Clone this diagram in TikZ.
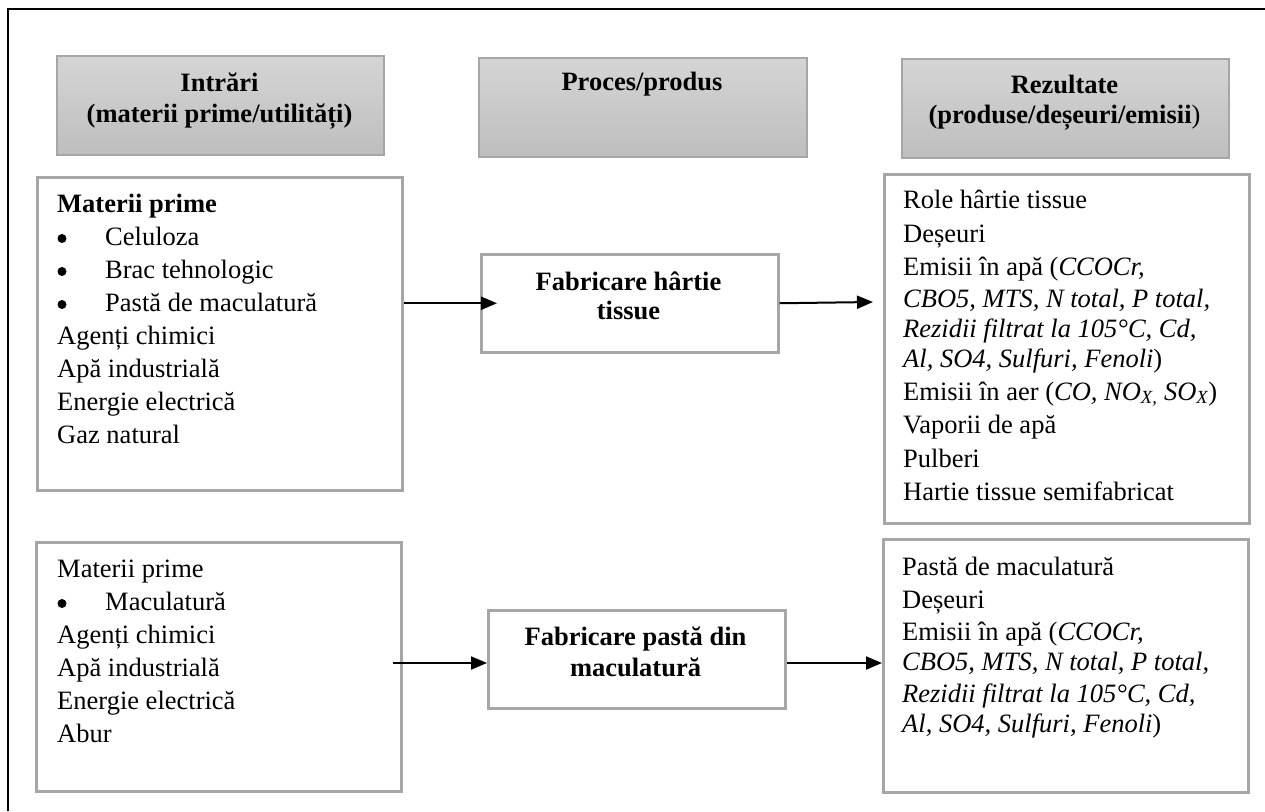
\documentclass[tikz,border=0pt]{standalone}
\usepackage{fontspec}
\setmainfont{Liberation Serif}
\usetikzlibrary{arrows.meta}
\definecolor{hdrtop}{RGB}{213,213,213}
\definecolor{hdrbot}{RGB}{190,190,190}
\definecolor{boxline}{RGB}{166,166,166}
\begin{document}
\begin{tikzpicture}[x=1pt,y=-1pt,
  every node/.style={font=\fontsize{26.5}{33}\selectfont},
  hdr/.style={draw=boxline, line width=1.5pt, top color=hdrtop, bottom color=hdrbot, anchor=north west, inner sep=0pt},
  tbox/.style={draw=boxline, line width=2.5pt, fill=white, anchor=north west, inner sep=0pt},
  txt/.style={anchor=base west, inner sep=0pt},
  bul/.style={circle, fill=black, inner sep=0pt, minimum size=9pt},
  ctxt/.style={anchor=base, inner sep=0pt, font=\fontsize{26.5}{33}\selectfont\bfseries},
  arr/.style={line width=2pt, -{Triangle[length=16pt,width=13pt]}}
]
\useasboundingbox (0,0) rectangle (1265,811);
\fill[white] (0,0) rectangle (1265,811);
% outer frame
\draw[line width=2.5pt] (8,811) -- (8,9) -- (1265,9);

% headers
\node[hdr, minimum width=327pt, minimum height=99pt] (hIn) at (56,55) {};
\node[hdr, minimum width=328pt, minimum height=99pt] (hPr) at (478,57) {};
\node[hdr, minimum width=327pt, minimum height=99pt] (hRe) at (901,58) {};
\node[ctxt] (hIn1) at (219.5,91) {Intrări};
\node[ctxt] (hIn2) at (219.5,122) {(materii prime/utilități)};
\node[ctxt] (hPr1) at (642,90) {Proces/produs};
\node[ctxt] (hRe1) at (1064.5,93) {Rezultate};
\node[ctxt] (hRe2) at (1064.5,123) {(produse/deșeuri/emisii\textnormal{)}};

% boxes
\node[tbox, minimum width=365pt, minimum height=313pt] (in1) at (36,176) {};
\node[tbox, minimum width=365pt, minimum height=249pt] (in2) at (35,541) {};
\node[tbox, minimum width=297pt, minimum height=98pt] (p1) at (480,253) {};
\node[tbox, minimum width=297pt, minimum height=98pt] (p2) at (487,609) {};
\node[tbox, minimum width=365pt, minimum height=349pt] (r1) at (883,173) {};
\node[tbox, minimum width=365pt, minimum height=253pt] (r2) at (882,538) {};

% input box 1 text
\node[txt] (i1t) at (57,212) {\textbf{Materii prime}};
\foreach \n/\y/\t in {1/245/Celuloza, 2/278/Brac tehnologic, 3/311/Pastă de maculatură}{
  \node[bul] (i1b\n) at (62,\y-6.5) {};
  \node[txt] (i1s\n) at (105,\y) {\t};
}
\foreach \n/\y/\t in {1/344/Agenți chimici, 2/377/Apă industrială, 3/410/Energie electrică, 4/443/Gaz natural}{
  \node[txt] (i1l\n) at (57,\y) {\t};
}

% input box 2 text
\node[txt] (i2t) at (57,577) {Materii prime};
\node[bul] (i2b1) at (62,603.5) {};
\node[txt] (i2s1) at (105,610) {Maculatură};
\foreach \n/\y/\t in {1/643/Agenți chimici, 2/676/Apă industrială, 3/709/Energie electrică, 4/742/Abur}{
  \node[txt] (i2l\n) at (57,\y) {\t};
}

% process texts
\node[ctxt] (p1a) at (628.5,290) {Fabricare hârtie};
\node[ctxt] (p1b) at (628.5,319) {tissue};
\node[ctxt] (p2a) at (635.5,645) {Fabricare pastă din};
\node[ctxt] (p2b) at (635.5,676) {maculatură};

% results box 1
\foreach \n/\y/\t in {
  1/208/{Role hârtie tissue},
  2/242/{Deșeuri},
  3/275/{Emisii în apă (\textit{CCOCr,}},
  4/307/{\textit{CBO5, MTS, N total, P total,}},
  5/337/{\textit{Rezidii filtrat la 105°C, Cd,}},
  6/367/{\textit{Al, SO4, Sulfuri, Fenoli})},
  7/400/{Emisii în aer (\textit{CO, NO\textsubscript{X,} SO\textsubscript{X}})},
  8/433/{Vaporii de apă},
  9/467/{Pulberi},
  10/500/{Hartie tissue semifabricat}}{
  \node[txt] (r1l\n) at (903,\y) {\t};
}

% results box 2
\foreach \n/\y/\t in {
  1/575/{Pastă de maculatură},
  2/608/{Deșeuri},
  3/640/{Emisii în apă (\textit{CCOCr,}},
  4/670/{\textit{CBO5, MTS, N total, P total,}},
  5/702/{\textit{Rezidii filtrat la 105°C, Cd,}},
  6/732/{\textit{Al, SO4, Sulfuri, Fenoli})}}{
  \node[txt] (r2l\n) at (902,\y) {\t};
}

% connectors
\coordinate (a2e) at (873,302);
\coordinate (a3s) at (393,663);
\coordinate (a4s) at (787,663);
\draw[arr] (in1.east |- p1.west) -- ([xshift=17pt]p1.west);
\draw[arr] (p1.east) -- (a2e);
\draw[arr] (a3s) -- (a3s -| p2.west);
\draw[arr] (a4s) -- (a4s -| r2.west);
\end{tikzpicture}
\end{document}
